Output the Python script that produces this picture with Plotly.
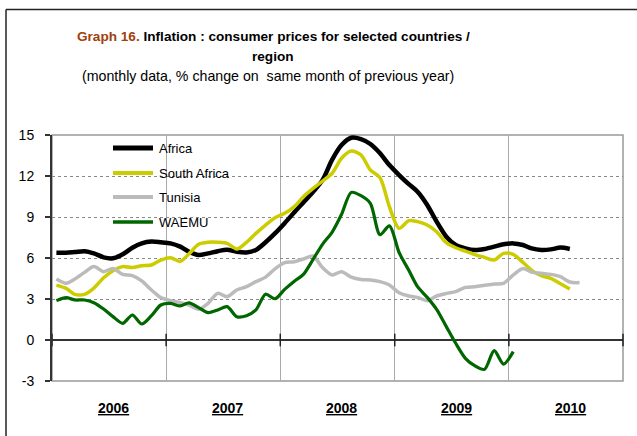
import plotly.graph_objects as go
import pandas as pd

# ---------------- data (monthly, % y/y) ----------------
africa = [6.39, 6.39, 6.44, 6.5, 6.34, 6.05, 5.98, 6.27, 6.75, 7.07, 7.2, 7.15,
          7.07, 6.83, 6.45, 6.22, 6.34, 6.5, 6.6, 6.46, 6.41, 6.59, 7.15, 7.8,
          8.55, 9.35, 10.07, 10.85, 11.7, 13.2, 14.27, 14.8, 14.7, 14.34, 13.66, 12.8,
          12.07, 11.4, 10.85, 9.88, 8.66, 7.56, 6.95, 6.7, 6.58, 6.66, 6.83, 7.0,
          7.07, 6.95, 6.7, 6.59, 6.63, 6.76, 6.66]
south_africa = [4.02, 3.78, 3.34, 3.34, 3.8, 4.55, 5.07, 5.37, 5.3, 5.44, 5.49, 5.85,
                6.02, 5.75, 6.3, 7.0, 7.15, 7.15, 7.07, 6.66, 7.15, 7.8, 8.41, 8.95,
                9.27, 9.76, 10.49, 11.1, 11.63, 12.2, 13.3, 13.83, 13.54, 12.44, 11.88, 9.75,
                8.17, 8.73, 8.66, 8.41, 7.92, 7.12, 6.75, 6.5, 6.25, 6.05, 5.85, 6.34,
                6.27, 5.68, 5.1, 4.71, 4.51, 4.12, 3.73]
tunisia = [4.46, 4.15, 4.46, 4.95, 5.37, 5.0, 5.24, 4.8, 4.71, 4.32, 3.66, 3.1,
           2.88, 2.73, 2.56, 2.25, 2.68, 3.41, 3.17, 3.66, 3.9, 4.27, 4.6, 5.2,
           5.66, 5.73, 5.93, 6.15, 5.3, 4.76, 5.0, 4.6, 4.42, 4.39, 4.27, 4.02,
           3.46, 3.22, 3.12, 2.88, 3.22, 3.41, 3.54, 3.85, 3.9, 4.0, 4.1, 4.15,
           4.76, 5.24, 4.97, 4.88, 4.8, 4.63, 4.24, 4.2]
waemu = [2.88, 3.1, 2.93, 2.93, 2.73, 2.27, 1.71, 1.22, 1.83, 1.17, 1.78, 2.56,
         2.68, 2.49, 2.72, 2.37, 2.0, 2.2, 2.44, 1.71, 1.78, 2.2, 3.35, 3.02,
         3.7, 4.3, 4.8, 5.9, 7.0, 7.9, 9.2, 10.8, 10.56, 10.0, 7.7, 8.35,
         6.4, 5.1, 3.9, 3.12, 2.24, 0.98, -0.24, -1.34, -1.9, -2.15, -0.78, -1.76,
         -0.85]

series_names = ["Africa", "South Africa", "Tunisia", "WAEMU"]
series_values = [africa, south_africa, tunisia, waemu]
series_colors = ["#000000", "#CCCC00", "#BBBBBB", "#006600"]
series_widths = [4.5, 3.5, 3.5, 3.2]

years = ["2006", "2007", "2008", "2009", "2010"]
y_ticks = [-3, 0, 3, 6, 9, 12, 15]

# ---------------- figure ----------------
months = pd.date_range("2006-01-01", periods=60, freq="MS") + pd.Timedelta(days=14)
year_starts = pd.date_range("2006-01-01", periods=6, freq="YS")

fig = go.Figure()
for name, vals, col, w in zip(series_names, series_values, series_colors, series_widths):
    fig.add_trace(go.Scatter(
        x=months[:len(vals)], y=vals, name=name, mode="lines",
        line=dict(color=col, width=w, shape="spline", smoothing=0.8),
        showlegend=False, hoverinfo="skip"))

# tick marks crossing the zero line at year boundaries
fig.add_trace(go.Scatter(
    x=year_starts, y=[0] * len(year_starts), mode="markers",
    marker=dict(symbol="line-ns", size=9, line=dict(color="#222", width=1.5)),
    showlegend=False, hoverinfo="skip", cliponaxis=False))

W, H = 637, 436
L, R, T, B = 52, 14, 135, 55
pw, ph = W - L - R, H - T - B

def px(xp):
    return (xp - L) / pw

def py(yp):
    return (H - B - yp) / ph

shapes = [
    # plot border (gray)
    dict(type="rect", xref="paper", yref="paper", x0=0, x1=1, y0=0, y1=1,
         line=dict(color="#999999", width=1.5), layer="below"),
    # outer frame (top and left edges visible)
    dict(type="line", xref="paper", yref="paper", x0=px(6), x1=px(637),
         y0=py(9.5), y1=py(9.5), line=dict(color="#222222", width=1.5)),
    dict(type="line", xref="paper", yref="paper", x0=px(6), x1=px(6),
         y0=py(9.5), y1=py(436), line=dict(color="#222222", width=1.5)),
]

TFONT = "Liberation Sans, Arial"
annotations = [
    dict(text="<b><span style='color:#A0400B'>Graph 16.</span> Inflation : consumer prices for selected countries /</b>",
         xref="paper", yref="paper", x=px(273), y=py(37), showarrow=False,
         font=dict(family=TFONT, size=13.6, color="#000"),
         xanchor="center", yanchor="middle"),
    dict(text="<b>region</b>", xref="paper", yref="paper", x=px(273), y=py(57), showarrow=False,
         font=dict(family=TFONT, size=13.6, color="#000"),
         xanchor="center", yanchor="middle"),
    dict(text="(monthly data, % change on  same month of previous year)",
         xref="paper", yref="paper", x=px(268), y=py(76), showarrow=False,
         font=dict(family=TFONT, size=14.2, color="#000"),
         xanchor="center", yanchor="middle"),
]

# year labels
for ys, yr in zip(year_starts[:-1], years):
    annotations.append(dict(
        text=f"<b><u>{yr}</u></b>", x=ys + pd.Timedelta(days=196), xref="x",
        y=py(408), yref="paper", showarrow=False,
        font=dict(family=TFONT, size=14, color="#000"),
        xanchor="center", yanchor="middle"))

# manual legend
leg_y = [148, 173, 197, 222]
for name, col, w, ly in zip(series_names, series_colors, series_widths, leg_y):
    shapes.append(dict(type="line", xref="paper", yref="paper",
                       x0=px(113), x1=px(153), y0=py(ly), y1=py(ly),
                       line=dict(color=col, width=w + 0.5)))
    annotations.append(dict(text=name, xref="paper", yref="paper", x=px(157), y=py(ly),
                            showarrow=False, xanchor="left", yanchor="middle",
                            font=dict(family=TFONT, size=13, color="#000")))

fig.update_layout(
    width=W, height=H, margin=dict(l=L, r=R, t=T, b=B, pad=0),
    paper_bgcolor="white", plot_bgcolor="white",
    font=dict(family=TFONT, color="#000"),
    shapes=shapes, annotations=annotations,
    xaxis=dict(type="date", range=["2006-01-01", "2011-01-01"],
               tickmode="array", tickvals=year_starts, ticktext=[""] * 6,
               showgrid=True, gridcolor="#AAAAAA", gridwidth=1,
               showline=False, zeroline=False, ticks=""),
    yaxis=dict(range=[-3, 15], tickmode="array", tickvals=y_ticks,
               ticktext=[str(v) for v in y_ticks],
               showgrid=True, gridcolor="#888888", gridwidth=1, griddash="dot",
               zeroline=True, zerolinecolor="#333333", zerolinewidth=1.5,
               showline=True, linecolor="#333333", linewidth=2,
               ticks="outside", ticklen=5, tickwidth=1.5, tickcolor="#333333",
               ticklabelstandoff=8,
               tickfont=dict(family=TFONT, size=14, color="#000")),
)

fig.write_html("out.html", config={"displayModeBar": False},
               post_script="document.body.style.margin='0';document.body.style.padding='0';document.body.style.overflow='hidden';")
